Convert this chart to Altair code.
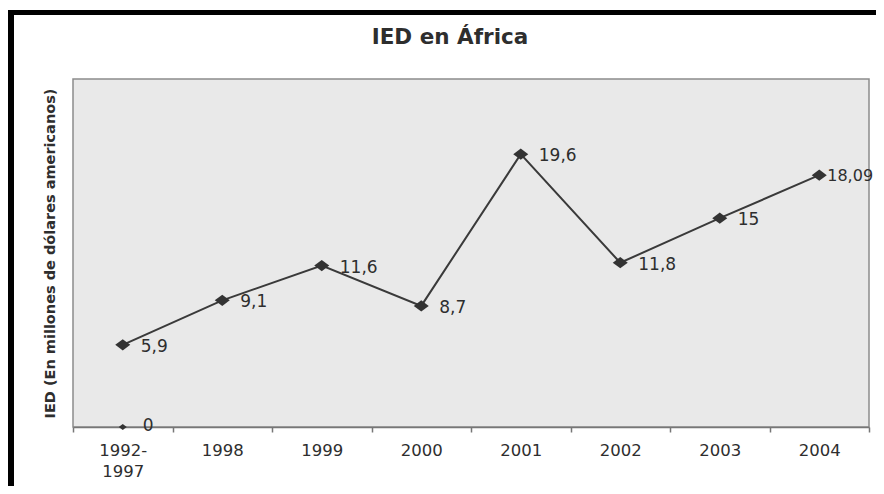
import altair as alt
import pandas as pd

categories = ["1992-1997", "1998", "1999", "2000", "2001", "2002", "2003", "2004"]
values = [5.9, 9.1, 11.6, 8.7, 19.6, 11.8, 15.0, 18.09]
labels = ["5,9", "9,1", "11,6", "8,7", "19,6", "11,8", "15", "18,09"]

zero_category = ["1992-1997"]
zero_value = [0]
zero_label = ["0"]

title_text = ["IED en África"]

df = pd.DataFrame({"cat": categories, "val": values, "lab": labels})
dz = pd.DataFrame({"cat": zero_category, "val": zero_value, "lab": zero_label})
dt = pd.DataFrame({"t": title_text})

W, H = 796, 348
FONT = "DejaVu Sans"
DIAMOND = "M-1,0L0,-0.75L1,0L0,0.75Z"
TXT = "#2e2e2e"

x = alt.X(
    "cat:N",
    sort=categories,
    title=None,
    scale=alt.Scale(paddingInner=0, paddingOuter=0),
    axis=alt.Axis(
        labelAngle=0,
        labelFontSize=16.5,
        labelFont=FONT,
        labelColor=TXT,
        labelPadding=10,
        labelLineHeight=21,
        labelExpr="datum.label == '1992-1997' ? ['1992-', '1997'] : datum.label",
        tickBand="extent",
        tickSize=5,
        tickColor="#777777",
        tickWidth=1.5,
        domainColor="#777777",
        domainWidth=1.5,
        grid=False,
    ),
)
y = alt.Y(
    "val:Q",
    scale=alt.Scale(domain=[0, 25]),
    axis=alt.Axis(
        title="IED (En millones de dólares americanos)",
        labels=False,
        ticks=False,
        domain=False,
        grid=False,
        titleFont=FONT,
        titleFontSize=14.5,
        titleFontWeight="bold",
        titleColor=TXT,
        titlePadding=16,
    ),
)

base = alt.Chart(df).encode(x=x, y=y)

line = base.mark_line(color="#3a3a3a", strokeWidth=2)
pts = base.mark_point(shape=DIAMOND, size=225, filled=True, color="#333333", opacity=1)
txt = base.mark_text(align="left", baseline="middle", dx=18, dy=2, fontSize=17,
                     font=FONT, color=TXT).encode(text="lab:N").transform_filter(
    "datum.cat != '2004'")
txt_last = base.mark_text(align="left", baseline="middle", dx=8, dy=1, fontSize=16,
                          font=FONT, color=TXT, clip=False).encode(text="lab:N").transform_filter(
    "datum.cat == '2004'")

zpts = alt.Chart(dz).mark_point(shape=DIAMOND, size=64, filled=True, color="#333333",
                                opacity=1, clip=False).encode(x=x, y=y)
ztxt = alt.Chart(dz).mark_text(align="left", baseline="middle", dx=20, dy=-1, fontSize=17,
                               font=FONT, color=TXT).encode(x=x, y=y, text="lab:N")

title = alt.Chart(dt).mark_text(align="center", baseline="middle", fontSize=21.5,
                                fontWeight="bold", font=FONT, color=TXT).encode(
    x=alt.value(W / 2 - 21), y=alt.value(-41), text="t:N")

one = alt.Data(values=[{}])
left_border = alt.Chart(one).mark_rule(color="#000000", strokeWidth=6, clip=False).encode(
    x=alt.value(-62), y=alt.value(-69), y2=alt.value(H + 60))
top_border = alt.Chart(one).mark_rule(color="#000000", strokeWidth=5, clip=False).encode(
    x=alt.value(-65), x2=alt.value(W + 14), y=alt.value(-66.5))
right_border = alt.Chart(one).mark_rule(color="#9a9a9a", strokeWidth=1.5, clip=False).encode(
    x=alt.value(W + 13), y=alt.value(-69), y2=alt.value(H + 60))

chart = alt.layer(line, pts, txt, txt_last, zpts, ztxt, title,
                  left_border, top_border, right_border).properties(
    width=W,
    height=H,
    autosize=alt.AutoSizeParams(type="none"),
    padding={"left": 65, "top": 71, "right": 7, "bottom": 59},
).configure(
    background="white"
).configure_view(
    fill="#e9e9e9", stroke="#8c8c8c", strokeWidth=1.5
)

chart.save("out.html", embed_options={"renderer": "svg", "actions": False})
